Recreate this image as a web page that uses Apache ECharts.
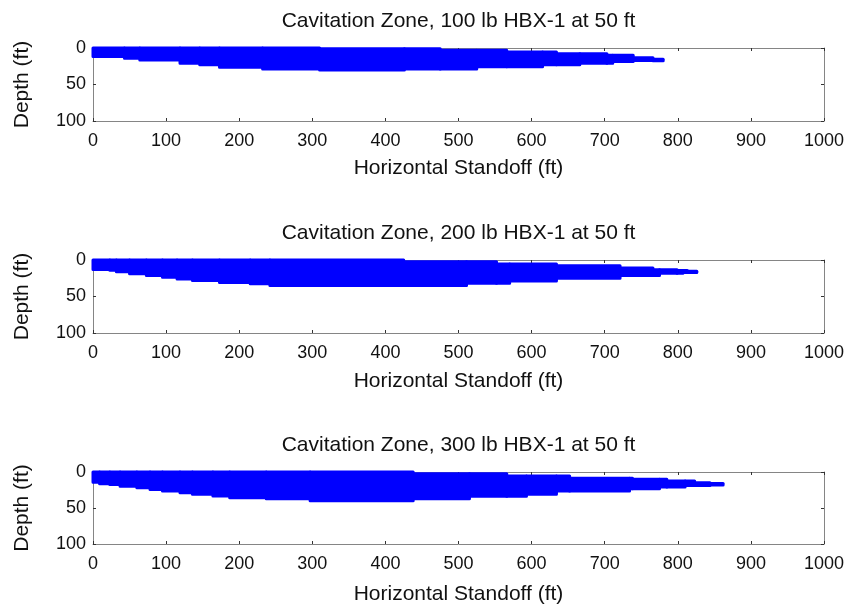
<!DOCTYPE html>
<html>
<head>
<meta charset="utf-8">
<script src="https://cdn.jsdelivr.net/npm/echarts@6/dist/echarts.min.js"></script>
<style>
  html, body { margin: 0; padding: 0; background: #ffffff; }
  #chart { width: 851px; height: 606px; }
</style>
</head>
<body>
<div id="chart"></div>
<script>
// Cavitation zone envelopes: each segment spans [edge[i], edge[i+1]] in standoff (ft)
// and runs from top depth to bottom depth (ft).

const titles = [
  'Cavitation Zone, 100 lb HBX-1 at 50 ft',
  'Cavitation Zone, 200 lb HBX-1 at 50 ft',
  'Cavitation Zone, 300 lb HBX-1 at 50 ft'
];

const xTicks = [0, 100, 200, 300, 400, 500, 600, 700, 800, 900, 1000];
const yTicks = [0, 50, 100];

// 100 lb charge
const edges100 = [0, 43, 64, 119, 146, 173, 232, 310, 426, 475, 525, 566, 615, 634, 666, 703, 711, 739, 766, 780];
const top100 = [0, 0, 0, 0, 0, 0, 0, 1, 1, 3, 3, 5.4, 5.4, 7.8, 7.8, 10, 10, 13.3, 15.5];
const bottom100 = [11.5, 14, 16.6, 20.8, 23, 26.3, 28.6, 30, 28.6, 28.6, 25.8, 25.8, 23, 23, 20.8, 20.8, 18.5, 17, 17.5];

// 200 lb charge
const edges200 = [0, 23, 32, 50, 73, 95, 115, 136, 173, 215, 242, 425, 511, 552, 570, 634, 721, 766, 775, 799, 807, 813, 826];
const top200 = [0, 0, 0, 0, 0, 0, 0, 0, 0, 0, 0, 2.5, 2.5, 5.6, 5.6, 7.9, 11, 13.3, 13.3, 14.5, 14.5, 15.5];
const bottom200 = [12.9, 14.2, 16, 18.7, 21.4, 23.7, 26, 28.2, 30.9, 32.7, 35, 35, 31.8, 31.8, 28.6, 25, 21.4, 21.4, 18.3, 18.3, 17, 17];

// 300 lb charge
const edges300 = [0, 9, 23, 37, 60, 78, 95, 119, 136, 164, 187, 237, 297, 438, 515, 566, 593, 634, 652, 734, 738, 775, 785, 810, 823, 844, 862];
const top300 = [0, 0, 0, 0, 0, 0, 0, 0, 0, 0, 0, 0, 0, 2.5, 2.5, 5.7, 5.7, 5.7, 8.8, 8.8, 10.2, 10.2, 12.5, 12.5, 14.8, 16];
const bottom300 = [14.3, 16.2, 17.5, 19.7, 22, 24.3, 26.5, 28.8, 31, 33.3, 35.6, 37, 40, 37.3, 33.8, 33.8, 31, 26.5, 26.5, 23.4, 23.4, 20.7, 20.7, 18.8, 18.8, 18];

const panels = [
  { edges: edges100, top: top100, bottom: bottom100 },
  { edges: edges200, top: top200, bottom: bottom200 },
  { edges: edges300, top: top300, bottom: bottom300 }
];

const FONT = '"Liberation Sans", Arial, Helvetica, sans-serif';
const TEXT = '#111111';
const LINE = '#858585';
const TICK = '#333333';
const FILL = '#0000ff';

const gridTops = [48, 260, 472];
const gridHeight = 73;
const nameGaps = [37, 38, 40];
const plotLeft = 93;
const plotRight = 27;
const plotCenter = plotLeft + (851 - plotLeft - plotRight) / 2;

function toRows(p) {
  const rows = [];
  for (let i = 0; i < p.top.length; i++) {
    rows.push([p.edges[i], p.edges[i + 1], p.top[i], p.bottom[i]]);
  }
  return rows;
}

const plainNumber = (v) => String(v);

const option = {
  animation: false,
  backgroundColor: '#ffffff',
  title: [],
  grid: [],
  xAxis: [],
  yAxis: [],
  series: []
};

panels.forEach((p, k) => {
  option.title.push({
    text: titles[k],
    left: plotCenter,
    textAlign: 'center',
    top: gridTops[k] - 37,
    padding: 0,
    textStyle: { fontFamily: FONT, fontSize: 21, fontWeight: 'normal', color: TEXT }
  });

  option.grid.push({
    left: plotLeft,
    right: plotRight,
    top: gridTops[k],
    height: gridHeight,
    containLabel: false
  });

  const xBase = {
    gridIndex: k,
    type: 'value',
    min: xTicks[0],
    max: xTicks[xTicks.length - 1],
    interval: xTicks[1] - xTicks[0],
    splitLine: { show: false },
    splitArea: { show: false },
    minorTick: { show: false },
    axisLine: { show: true, onZero: false, lineStyle: { color: LINE, width: 1 } },
    axisTick: { show: true, inside: true, length: 3, lineStyle: { color: TICK, width: 1 } }
  };
  option.xAxis.push(Object.assign({}, xBase, {
    position: 'bottom',
    name: 'Horizontal Standoff (ft)',
    nameLocation: 'middle',
    nameGap: nameGaps[k],
    nameTextStyle: { fontFamily: FONT, fontSize: 21, color: TEXT },
    axisLabel: { show: true, margin: 11, fontFamily: FONT, fontSize: 18, color: TEXT, formatter: plainNumber }
  }));
  option.xAxis.push(Object.assign({}, xBase, {
    position: 'top',
    axisLabel: { show: false }
  }));

  const yBase = {
    gridIndex: k,
    type: 'value',
    inverse: true,
    min: yTicks[0],
    max: yTicks[yTicks.length - 1],
    interval: yTicks[1] - yTicks[0],
    splitLine: { show: false },
    splitArea: { show: false },
    axisLine: { show: true, onZero: false, lineStyle: { color: LINE, width: 1 } },
    axisTick: { show: true, inside: true, length: 3, lineStyle: { color: TICK, width: 1 } }
  };
  option.yAxis.push(Object.assign({}, yBase, {
    position: 'left',
    name: 'Depth (ft)',
    nameLocation: 'middle',
    nameGap: 60,
    nameTextStyle: { fontFamily: FONT, fontSize: 21, color: TEXT },
    axisLabel: { show: true, margin: 7, fontFamily: FONT, fontSize: 18, color: TEXT, formatter: plainNumber }
  }));
  option.yAxis.push(Object.assign({}, yBase, {
    position: 'right',
    axisLabel: { show: false }
  }));

  // The zone is painted on its own layer, over the axis frame.
  option.series.push({
    type: 'custom',
    name: titles[k],
    xAxisIndex: 2 * k,
    yAxisIndex: 2 * k,
    zlevel: 1,
    silent: true,
    encode: { x: [0, 1], y: [2, 3] },
    data: toRows(p),
    renderItem: function (params, api) {
      const a = api.coord([api.value(0), api.value(2)]);
      const b = api.coord([api.value(1), api.value(3)]);
      return {
        type: 'rect',
        shape: { x: a[0], y: a[1], width: b[0] - a[0], height: b[1] - a[1] },
        style: { fill: FILL, stroke: FILL, lineWidth: 3, lineJoin: 'round' }
      };
    }
  });
});

const chart = echarts.init(document.getElementById('chart'), null, { renderer: 'canvas' });
chart.setOption(option);
</script>
</body>
</html>
